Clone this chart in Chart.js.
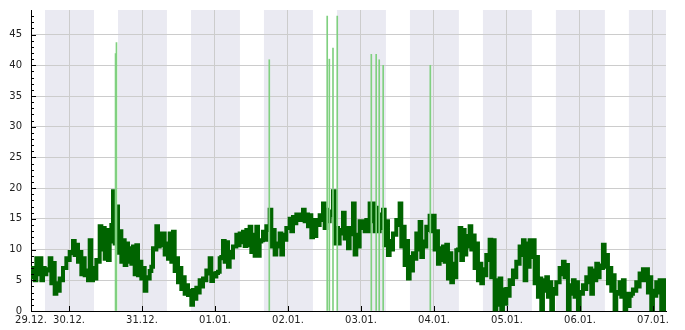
<!DOCTYPE html>
<html>
<head>
<meta charset="utf-8">
<script src="https://cdn.jsdelivr.net/npm/chart.js@4.4.0/dist/chart.umd.min.js"></script>
<style>
  html, body { margin: 0; padding: 0; background: #fff; }
  #wrap { width: 685px; height: 330px; }
</style>
</head>
<body>
<div id="wrap"><canvas id="chart" width="685" height="330"></canvas></div>
<script>
// all times are hours counted from 29.12. 00:00
const tickHours  = [11.5, 24, 48, 72, 96, 120, 144, 168, 192, 216];
const tickLabels = ['29.12.', '30.12.', '31.12.', '01.01.', '02.01.', '03.01.', '04.01.', '05.01.', '06.01.', '07.01.'];

// dark (night) periods
const nightStart = [16.1, 40.1, 64.1, 88.1, 112.1, 136.1, 160.1, 184.1, 208.1];
const nightEnd   = [32.2, 56.2, 80.2, 104.2, 128.2, 152.2, 176.2, 200.2, 224.2];

// main series, read as upper / lower edge of the noisy band, one reading every ~1.1 h
const firstHour = 11.07;
const stepHours = 1.0959;
const highs = [
  6.5, 7.0, 8.6, 8.6, 7.0, 6.8, 8.6, 7.8, 4.5, 5.3, 7.0, 8.6, 9.6, 11.4, 10.8, 9.6, 8.6, 6.6, 11.5, 7.0, 8.3, 13.8, 13.5, 13.2, 11.3,
  19.5, 17.0, 13.0, 11.5, 11.0, 10.2, 10.5, 10.7, 8.0, 7.0, 5.5, 6.5, 10.2, 13.8, 12.6, 12.6, 11.0, 12.6, 12.9, 8.6, 7.0, 5.5, 4.2, 3.3,
  3.4, 3.8, 5.0, 5.3, 6.6, 8.6, 6.1, 6.2, 8.6, 11.4, 11.2, 9.6, 10.5, 12.4, 12.6, 12.9, 13.2, 13.7, 12.4, 13.7, 11.3, 12.9, 13.8, 16.5,
  13.2, 11.0, 12.6, 12.4, 13.5, 15.0, 15.3, 15.7, 15.7, 16.5, 15.7, 15.6, 14.8, 14.8, 15.6, 17.5, 16.5, 16.2, 19.5, 13.5, 13.2, 16.0, 13.5, 13.5,
  17.5, 12.4, 14.6, 14.6, 14.8, 17.5, 17.5, 16.8, 15.7, 16.5, 14.6, 11.4, 12.6, 14.8, 17.5, 13.7, 11.4, 8.8, 9.4, 12.6, 14.5, 11.3, 13.7, 15.5,
  15.5, 13.0, 10.2, 10.5, 10.8, 9.4, 7.7, 9.9, 13.5, 13.2, 12.2, 13.8, 12.3, 11.0, 7.7, 6.8, 9.1, 11.6, 11.5, 5.0, 5.3, 3.5, 3.6, 5.0,
  6.6, 8.0, 10.5, 11.5, 11.0, 11.5, 11.5, 8.8, 5.3, 5.0, 5.5, 4.7, 3.6, 4.7, 7.0, 8.0, 7.5, 4.2, 5.0, 4.7, 3.1, 4.2, 5.5, 6.9,
  6.6, 7.7, 7.4, 10.8, 9.1, 7.0, 5.8, 3.1, 4.7, 5.0, 2.8, 2.5, 3.5, 4.7, 6.1, 6.8, 6.8, 5.5, 3.3, 4.7, 5.0, 5.0, 3.5
];
const lows = [
  5.0, 5.5, 5.0, 6.0, 5.0, 6.0, 6.6, 4.5, 2.8, 3.3, 5.0, 7.0, 8.3, 9.4, 9.1, 8.0, 6.0, 5.8, 5.0, 5.0, 5.3, 8.0, 10.0, 8.5, 8.3,
  14.0, 11.0, 9.5, 8.0, 7.5, 8.0, 7.7, 6.0, 5.8, 5.3, 3.3, 5.3, 7.2, 10.0, 10.5, 10.7, 9.2, 8.5, 8.0, 6.5, 4.7, 3.6, 2.8, 2.6,
  1.0, 2.0, 3.0, 4.0, 5.0, 6.1, 4.9, 5.6, 6.4, 8.8, 8.0, 7.2, 8.7, 10.5, 10.7, 11.2, 10.6, 10.7, 9.6, 9.0, 9.0, 11.5, 11.6, 13.2,
  10.5, 9.2, 10.5, 9.2, 11.6, 13.5, 13.0, 14.3, 14.8, 14.8, 14.6, 13.8, 12.0, 12.2, 14.0, 14.8, 13.5, 14.6, 15.6, 11.0, 11.0, 12.6, 11.8, 10.2,
  12.5, 9.2, 10.5, 13.5, 13.0, 13.0, 14.6, 13.0, 13.0, 13.5, 10.7, 9.1, 10.0, 12.4, 14.0, 10.5, 7.5, 5.3, 6.6, 8.5, 10.0, 8.8, 10.5, 13.2,
  13.0, 10.0, 7.7, 8.3, 8.0, 5.3, 4.7, 5.5, 10.0, 8.3, 9.2, 10.5, 10.0, 7.0, 5.0, 4.5, 5.8, 8.3, 5.5, 0.3, 1.0, 0.3, 1.2, 2.5,
  4.4, 5.5, 7.7, 9.1, 5.0, 7.2, 8.8, 4.5, 2.3, 0.3, 3.3, 2.3, 0.3, 2.8, 4.7, 6.0, 5.5, 0.3, 2.8, 2.3, 0.3, 2.8, 3.6, 4.7,
  2.8, 5.0, 5.5, 7.0, 7.2, 4.5, 3.3, 0.3, 2.8, 2.3, 0.3, 0.8, 2.8, 3.3, 4.0, 5.0, 5.0, 3.0, 0.3, 2.5, 3.0, 0.3, 0.3
];

// short peaks
const spikeHours  = [39.3, 39.6, 89.85, 108.9, 109.6, 110.8, 112.2, 123.4, 125.0, 126.0, 127.3, 142.8];
const spikeValues = [41.9, 43.7, 40.9, 48.0, 41.0, 42.8, 48.0, 41.8, 41.8, 40.9, 40.0, 40.0];

const xMin = 11.5;
const xMax = 220.3;
const yMax = 49;

// alternate between lower and upper edge -> thick noisy band like the original
const linePoints = [];
highs.forEach((hi, i) => {
  const t = firstHour + i * stepHours;
  linePoints.push({ x: t - stepHours / 4, y: lows[i] });
  linePoints.push({ x: t + stepHours / 4, y: hi });
});

const spikePoints = spikeHours.map((h, i) => ({ x: h, y: spikeValues[i] }));

const nightPlugin = {
  id: 'nights',
  beforeDraw(chart) {
    const { ctx, chartArea, scales } = chart;
    ctx.save();
    ctx.beginPath();
    ctx.rect(chartArea.left, chartArea.top, chartArea.right - chartArea.left, chartArea.bottom - chartArea.top);
    ctx.clip();
    ctx.fillStyle = '#eaeaf2';
    nightStart.forEach((s, i) => {
      const x1 = scales.x.getPixelForValue(s);
      const x2 = scales.x.getPixelForValue(nightEnd[i]);
      ctx.fillRect(x1, chartArea.top, x2 - x1, chartArea.bottom - chartArea.top);
    });
    ctx.restore();
  }
};

// ticks pointing inwards, minor ticks on y
const tickPlugin = {
  id: 'innerTicks',
  afterDraw(chart) {
    const { ctx, chartArea, scales } = chart;
    ctx.save();
    ctx.strokeStyle = '#000';
    ctx.lineWidth = 1;
    ctx.beginPath();
    tickHours.forEach(h => {
      const x = Math.round(scales.x.getPixelForValue(h)) + 0.5;
      ctx.moveTo(x, chartArea.bottom);
      ctx.lineTo(x, chartArea.bottom - 5);
    });
    for (let v = 0; v <= 48; v++) {
      const y = Math.round(scales.y.getPixelForValue(v)) + 0.5;
      ctx.moveTo(chartArea.left, y);
      ctx.lineTo(chartArea.left + (v % 5 === 0 ? 5 : 3), y);
    }
    ctx.stroke();
    ctx.restore();
  }
};

new Chart(document.getElementById('chart'), {
  type: 'line',
  data: {
    datasets: [
      {
        type: 'bar',
        data: spikePoints,
        backgroundColor: '#80d080',
        barThickness: 1,
        grouped: false,
        order: 0
      },
      {
        type: 'line',
        data: linePoints,
        borderColor: '#006400',
        borderWidth: 4,
        stepped: 'middle',
        pointRadius: 0,
        clip: { left: 0, top: 0, right: 0, bottom: 2 },
        order: 1
      }
    ]
  },
  options: {
    responsive: false,
    animation: false,
    events: [],
    layout: { padding: { top: 10, right: 19, left: 0, bottom: 0 } },
    plugins: { legend: { display: false }, tooltip: { enabled: false } },
    scales: {
      x: {
        type: 'linear',
        min: xMin,
        max: xMax,
        offset: false,
        afterBuildTicks(scale) {
          scale.ticks = tickHours.map(v => ({ value: v }));
        },
        afterFit(scale) {
          scale.height = 19;
          scale.paddingLeft = 0;
          scale.paddingRight = 0;
        },
        ticks: {
          autoSkip: false,
          maxRotation: 0,
          padding: 3,
          color: '#222',
          font: { family: 'DejaVu Sans', size: 10 },
          callback: (v, i) => tickLabels[i]
        },
        grid: { color: '#cccccc', lineWidth: 1, drawTicks: false, offset: false },
        border: { color: '#000', width: 1 }
      },
      y: {
        min: 0,
        max: yMax,
        afterFit(scale) {
          scale.width = 31;
          scale.paddingTop = 0;
          scale.paddingBottom = 0;
        },
        ticks: {
          stepSize: 5,
          includeBounds: false,
          padding: 9,
          color: '#222',
          font: { family: 'DejaVu Sans', size: 10 }
        },
        grid: { color: '#cccccc', lineWidth: 1, drawTicks: false },
        border: { color: '#000', width: 1 }
      }
    }
  },
  plugins: [nightPlugin, tickPlugin]
});
</script>
</body>
</html>
